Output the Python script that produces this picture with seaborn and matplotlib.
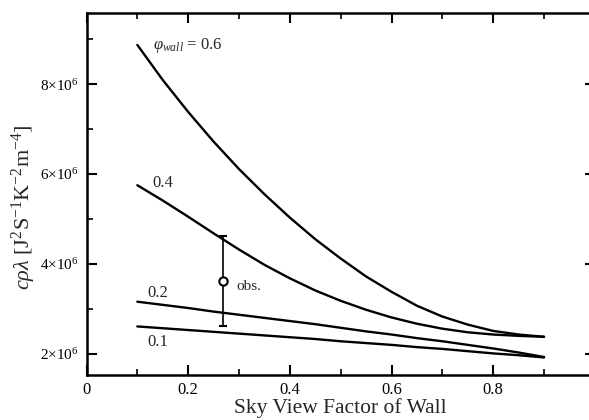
import numpy as np
import pandas as pd
import matplotlib
matplotlib.use("Agg")
import matplotlib.pyplot as plt
import seaborn as sns
from matplotlib.ticker import MultipleLocator, FixedLocator, FixedFormatter

# ---- data ----
svf = [0.10, 0.15, 0.20, 0.25, 0.30, 0.35, 0.40, 0.45, 0.50,
       0.55, 0.60, 0.65, 0.70, 0.75, 0.80, 0.85, 0.90]
phi06 = [8.87e6, 8.09e6, 7.38e6, 6.72e6, 6.11e6, 5.55e6, 5.03e6, 4.55e6, 4.12e6,
         3.72e6, 3.38e6, 3.07e6, 2.83e6, 2.65e6, 2.51e6, 2.43e6, 2.38e6]
phi04 = [5.75e6, 5.41e6, 5.05e6, 4.68e6, 4.32e6, 3.98e6, 3.68e6, 3.41e6, 3.18e6,
         2.98e6, 2.81e6, 2.67e6, 2.56e6, 2.48e6, 2.43e6, 2.40e6, 2.38e6]
phi02 = [3.16e6, 3.09e6, 3.02e6, 2.94e6, 2.87e6, 2.80e6, 2.73e6, 2.66e6, 2.58e6,
         2.50e6, 2.43e6, 2.35e6, 2.28e6, 2.20e6, 2.12e6, 2.03e6, 1.93e6]
phi01 = [2.61e6, 2.57e6, 2.53e6, 2.49e6, 2.45e6, 2.41e6, 2.37e6, 2.33e6, 2.28e6,
         2.24e6, 2.20e6, 2.15e6, 2.11e6, 2.06e6, 2.01e6, 1.97e6, 1.92e6]
phi_labels = ["0.6", "0.4", "0.2", "0.1"]
obs_x = [0.268]
obs_y = [3.61e6]
obs_err = [1.0e6]
xtick_vals = [0, 0.2, 0.4, 0.6, 0.8]
xtick_labels = ["0", "0.2", "0.4", "0.6", "0.8"]
ytick_vals = [2e6, 4e6, 6e6, 8e6]
ytick_labels = [r"$2{\times}10^6$", r"$4{\times}10^6$", r"$6{\times}10^6$", r"$8{\times}10^6$"]

# ---- build long table ----
rows = []
for lab, ys in zip(phi_labels, [phi06, phi04, phi02, phi01]):
    for x, y in zip(svf, ys):
        rows.append({"svf": x, "val": y, "phi": lab})
df = pd.DataFrame(rows)

sns.set_theme(style="ticks")
plt.rcParams["font.family"] = ["Liberation Serif", "DejaVu Serif"]
plt.rcParams["mathtext.fontset"] = "custom"
plt.rcParams["mathtext.rm"] = "Liberation Serif"
plt.rcParams["mathtext.it"] = "Liberation Serif:italic"
plt.rcParams["mathtext.bf"] = "Liberation Serif:bold"

fig = plt.figure(figsize=(5.89, 4.20), dpi=100)
ax = fig.add_axes([86.5 / 589, 1 - 375 / 420, 1 - 86.5 / 589 + 0.01, (375 - 13) / 420])

sns.lineplot(data=df, x="svf", y="val", hue="phi", units="phi", estimator=None,
             palette={k: "black" for k in phi_labels}, linewidth=1.7,
             legend=False, ax=ax)

ax.errorbar(obs_x, obs_y, yerr=obs_err, fmt="o", mfc="white", mec="black",
            ecolor="black", mew=1.5, ms=6, elinewidth=1.2, capsize=3, capthick=1.2, zorder=5)

ax.set_xlim(0, 1.0)
ax.set_ylim(1.53e6, 9.58e6)

ax.xaxis.set_major_locator(FixedLocator(xtick_vals))
ax.xaxis.set_major_formatter(FixedFormatter(xtick_labels))
ax.xaxis.set_minor_locator(MultipleLocator(0.1))
ax.yaxis.set_major_locator(FixedLocator(ytick_vals))
ax.yaxis.set_major_formatter(FixedFormatter(ytick_labels))
ax.yaxis.set_minor_locator(MultipleLocator(1e6))

ax.tick_params(which="both", direction="in", top=True, right=True, colors="black",
               labelsize=12)
ax.tick_params(which="major", length=7, width=1.5)
ax.tick_params(which="minor", length=4, width=1.2)
ax.tick_params(axis="y", which="major", labelsize=11, pad=6)
ax.tick_params(axis="x", which="major", pad=5)
for s in ax.spines.values():
    s.set_linewidth(1.8)
    s.set_color("black")

ax.set_xlabel("Sky View Factor of Wall", fontsize=15.5, labelpad=0)
ax.set_ylabel(r"$c\rho\lambda\ [\mathrm{J^2S^{-1}K^{-2}m^{-4}}]$", fontsize=16)
ax.yaxis.set_label_coords(-0.095, 0.464)

ax.text(0.131, 8.85e6, r"$\varphi_{wall}$ = 0.6", fontsize=12, va="center", ha="left")
ax.text(0.129, 5.8e6, "0.4", fontsize=12, va="center", ha="left")
ax.text(0.119, 3.36e6, "0.2", fontsize=12, va="center", ha="left")
ax.text(0.119, 2.27e6, "0.1", fontsize=12, va="center", ha="left")
ax.text(0.295, 3.49e6, "obs.", fontsize=11, va="center", ha="left")

fig.savefig("out.png", dpi=100)
